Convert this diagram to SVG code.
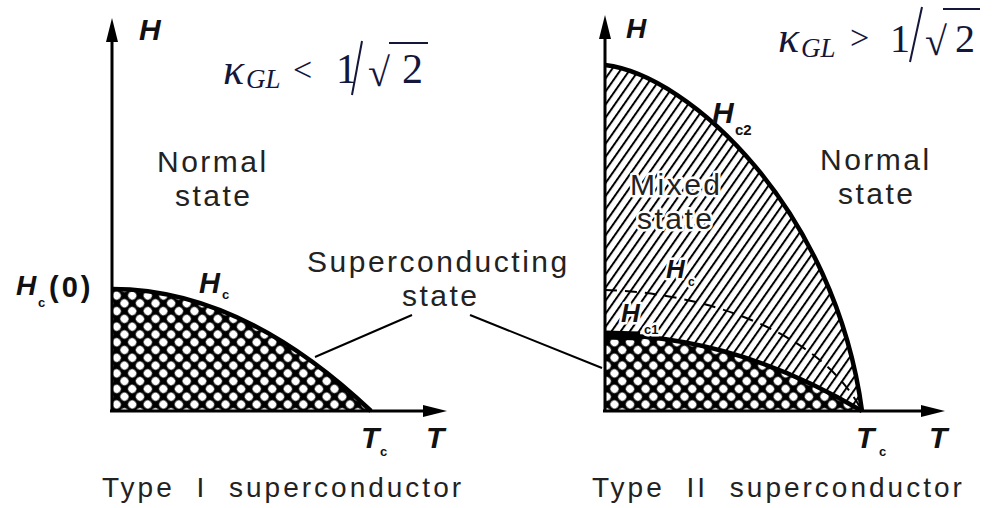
<svg xmlns="http://www.w3.org/2000/svg" width="1002" height="508" viewBox="0 0 1002 508">
<style>
.axis{stroke:#000;stroke-width:3;fill:none}
.curve{stroke:#000;stroke-width:4.5;fill:none}
.lead{stroke:#000;stroke-width:2;fill:none}
.lbl{font-family:"Liberation Sans",Arial,sans-serif;font-size:30px;letter-spacing:2.5px;fill:#222}
.cap{font-family:"Liberation Sans",Arial,sans-serif;font-size:28px;letter-spacing:3px;word-spacing:11px;fill:#222}
.hv{font-family:"Liberation Sans",Arial,sans-serif;font-weight:bold;font-style:italic;fill:#111}
.sub{font-family:"Liberation Sans",Arial,sans-serif;font-weight:bold;fill:#111}
.halo{stroke:#fff;stroke-width:5;paint-order:stroke;stroke-linejoin:round}
.kap{font-family:"Liberation Serif","Times New Roman",serif;fill:#14163a}
.kl{stroke:#14163a;stroke-width:2}
</style>
<defs>
<marker id="arr" viewBox="0 0 24 12" refX="14" refY="6" markerWidth="24" markerHeight="12" markerUnits="userSpaceOnUse" orient="auto">
<path d="M0,0 L24,6 L0,12 z" fill="#000"/>
</marker>
<pattern id="cross" width="11" height="11" patternUnits="userSpaceOnUse" patternTransform="rotate(45)">
<rect width="11" height="11" fill="#000"/>
<circle cx="5.5" cy="5.5" r="4.1" fill="#fff"/>
</pattern>
<pattern id="hatch" width="7.5" height="10" patternUnits="userSpaceOnUse" patternTransform="rotate(35)">
<rect width="7.5" height="10" fill="#fff"/>
<rect x="0" width="2" height="10" fill="#000"/>
</pattern>
</defs>

<g id="type1">
<g id="type1-regions">
<path id="type1-super" d="M112,289 Q242,289 371,411 L112,411 Z" fill="url(#cross)"/>
</g>
<g id="type1-curves">
<path class="curve" d="M112,289 Q242,289 371,411"/>
</g>
<g id="type1-axes">
<line class="axis" x1="112" y1="412" x2="112" y2="28" marker-end="url(#arr)"/>
<line class="axis" x1="110" y1="411" x2="437" y2="411" marker-end="url(#arr)"/>
</g>
<g id="type1-labels">
<text class="hv" x="139" y="40" font-size="30">H</text>
<text class="kap" x="223" y="84" font-size="44" font-style="italic">κ</text>
<text class="kap" x="246" y="88" font-size="27" font-style="italic">GL</text>
<text class="kap" x="293" y="81" font-size="34">&lt;</text>
<text class="kap" x="336" y="83" font-size="42">1</text>
<line class="kl" x1="362" y1="41" x2="352" y2="95"/>
<text class="kap" x="368" y="86" font-size="40">√</text>
<line class="kl" x1="389" y1="43" x2="428" y2="43"/>
<text class="kap" x="402" y="83" font-size="42">2</text>
<text class="lbl" x="157" y="172">Normal</text>
<text class="lbl" x="175" y="206">state</text>
<text class="hv" x="16" y="295" font-size="28">H</text>
<text class="sub" x="38" y="307" font-size="13">c</text>
<text class="sub" x="49" y="297" font-size="29" letter-spacing="3">(0)</text>
<text class="hv" x="199" y="293" font-size="29">H</text>
<text class="sub" x="222" y="299" font-size="13">c</text>
<text class="hv" x="361" y="448" font-size="30">T</text>
<text class="sub" x="380" y="456" font-size="13">c</text>
<text class="hv" x="426" y="448" font-size="30">T</text>
<text class="cap" x="102" y="497">Type I superconductor</text>
</g>
</g>

<g id="type2">
<g id="type2-regions">
<path id="type2-mixed" d="M605,65 C690,75 835,210 862,411 Q733.5,335 605,335 Z" fill="url(#hatch)"/>
<path id="type2-super" d="M605,335 Q733.5,335 862,411 L605,411 Z" fill="url(#cross)"/>
</g>
<g id="type2-curves">
<path class="curve" d="M605,65 C690,75 835,210 862,411"/>
<path class="curve" d="M605,335 Q733.5,335 862,411" stroke-width="5"/>
<path d="M605,335 L640,336" stroke="#000" stroke-width="9" fill="none"/>
<path d="M605,290 C700,292 820,330 862,411" stroke="#000" stroke-width="2" fill="none" stroke-dasharray="12 8"/>
</g>
<g id="type2-axes">
<line class="axis" x1="605" y1="412" x2="605" y2="25" marker-end="url(#arr)"/>
<line class="axis" x1="603" y1="411" x2="935" y2="411" marker-end="url(#arr)"/>
</g>
<g id="type2-labels">
<text class="hv" x="626" y="38" font-size="28">H</text>
<text class="kap" x="778" y="52" font-size="44" font-style="italic">κ</text>
<text class="kap" x="801" y="57" font-size="27" font-style="italic">GL</text>
<text class="kap" x="850" y="49" font-size="34">&gt;</text>
<text class="kap" x="890" y="52" font-size="40">1</text>
<line class="kl" x1="922" y1="7" x2="910" y2="62"/>
<text class="kap" x="925" y="55" font-size="40">√</text>
<line class="kl" x1="943" y1="9" x2="980" y2="9"/>
<text class="kap" x="955" y="52" font-size="40">2</text>
<text class="hv" x="712" y="123" font-size="30">H</text>
<text class="sub" x="735" y="135" font-size="15">c2</text>
<text class="lbl" x="820" y="170">Normal</text>
<text class="lbl" x="838" y="204">state</text>
<text class="lbl halo" x="630" y="195">Mixed</text>
<text class="lbl halo" x="637" y="229">state</text>
<text class="hv halo" x="666" y="278" font-size="26">H</text>
<text class="sub halo" x="688" y="286" font-size="12">c</text>
<text class="hv halo" x="621" y="322" font-size="26">H</text>
<text class="sub halo" x="644" y="334" font-size="13">c1</text>
<text class="hv" x="856" y="448" font-size="30">T</text>
<text class="sub" x="879" y="456" font-size="13">c</text>
<text class="hv" x="929" y="448" font-size="30">T</text>
<text class="cap" x="592" y="497">Type II superconductor</text>
</g>
</g>

<g id="shared-label">
<text class="lbl" x="307" y="272">Superconducting</text>
<text class="lbl" x="402" y="306">state</text>
</g>
<g id="connectors">
<line class="lead" x1="412" y1="315" x2="315" y2="357"/>
<line class="lead" x1="470" y1="315" x2="602" y2="368"/>
</g>
</svg>
